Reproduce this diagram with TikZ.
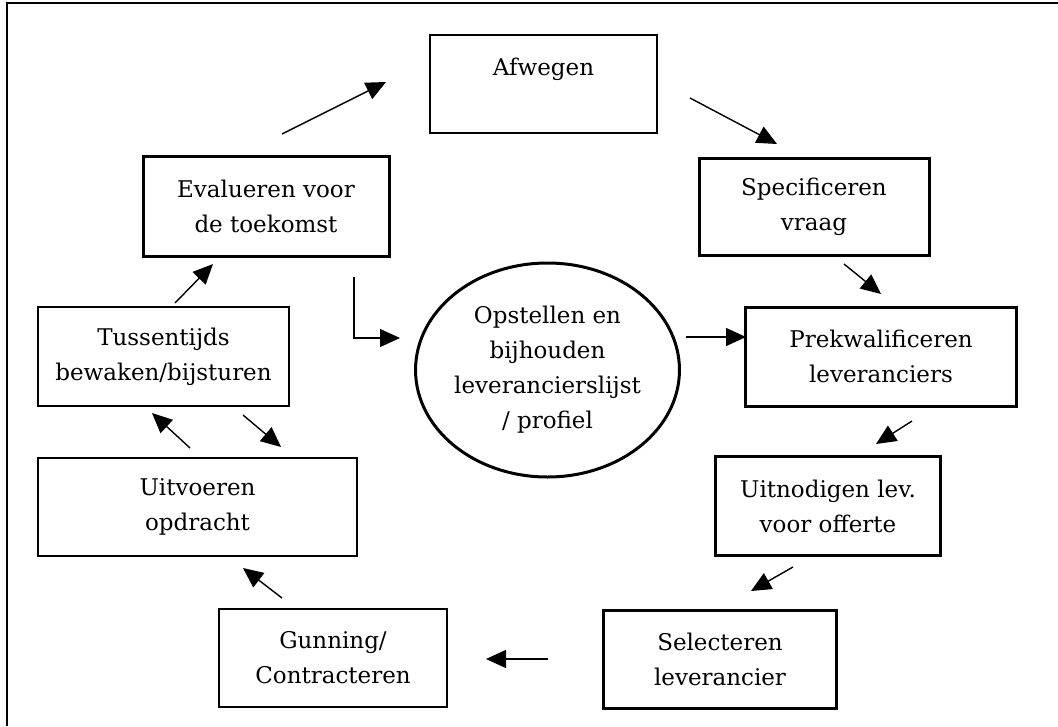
\documentclass[tikz,border=0pt]{standalone}
\usepackage{fontspec}
\setmainfont{DejaVu Serif}
\usetikzlibrary{arrows.meta,shapes.geometric}
\begin{document}
\begin{tikzpicture}[x=1pt,y=-1pt,
  every node/.style={font={\fontsize{23}{35}\selectfont}, align=center, inner sep=0pt},
  thinbox/.style={draw, line width=1.5pt, rectangle},
  thickbox/.style={draw, line width=3pt, rectangle},
  arr/.style={line width=1.4pt, -{Triangle[length=20pt,width=18pt]}}
]
\useasboundingbox (0,0) rectangle (1058,726);
% outer frame (top and left only)
\draw[line width=2pt] (1058,3) -- (7,3) -- (7,726);

% boxes
\node[thinbox, minimum width=227pt, minimum height=98pt] (afw) at (543.5,84) {Afwegen\\ \mbox{}};
\node[thickbox, minimum width=246pt, minimum height=100pt] (eval) at (266,206) {Evalueren voor\\de toekomst};
\node[thickbox, minimum width=230pt, minimum height=97pt] (spec) at (814,206.5) {Specificeren\\vraag};
\node[thickbox, minimum width=271pt, minimum height=99pt] (prek) at (881,356.5) {Prekwalificeren\\leveranciers};
\node[thickbox, minimum width=225pt, minimum height=99pt] (uitn) at (828,506) {Uitnodigen lev.\\voor offerte};
\node[thickbox, minimum width=233pt, minimum height=98pt] (sel) at (720,659) {Selecteren\\leverancier};
\node[thinbox, minimum width=228pt, minimum height=98pt] (gun) at (333,658) {Gunning/\\Contracteren};
\node[thinbox, minimum width=319pt, minimum height=98pt] (uitv) at (197.5,507) {Uitvoeren\\opdracht};
\node[thinbox, minimum width=251pt, minimum height=99pt] (tuss) at (163.5,356.5) {Tussentijds\\bewaken/bijsturen};
\node[draw, line width=3pt, ellipse, minimum width=261pt, minimum height=214pt] (ell) at (547.5,370) {Opstellen en\\bijhouden\\leverancierslijst\\/ profiel};

% arrow end points
\coordinate (a1s) at (282,134); \coordinate (a1e) at (386,82);
\coordinate (a2s) at (690,98);  \coordinate (a2e) at (777,144);
\coordinate (a3s) at (844,264); \coordinate (a3e) at (881,294);
\coordinate (a4s) at (686,337); \coordinate (a4e) at (746,337);
\coordinate (a5s) at (912,421); \coordinate (a5e) at (876,444);
\coordinate (a6s) at (793,567); \coordinate (a6e) at (751,591);
\coordinate (a7s) at (548,659); \coordinate (a7e) at (486,659);
\coordinate (a8s) at (282,598); \coordinate (a8e) at (243,568);
\coordinate (a9s) at (190,448); \coordinate (a9e) at (152,413);
\coordinate (a10s) at (243,415); \coordinate (a10e) at (281,447);
\coordinate (a11s) at (175,303); \coordinate (a11e) at (213,264);
\coordinate (a12s) at (354,277); \coordinate (a12m) at (354,338); \coordinate (a12e) at (400,338);

\draw[arr] (a1s) -- (a1e);
\draw[arr] (a2s) -- (a2e);
\draw[arr] (a3s) -- (a3e);
\draw[arr] (a4s) -- (a4e);
\draw[arr] (a5s) -- (a5e);
\draw[arr] (a6s) -- (a6e);
\draw[arr] (a7s) -- (a7e);
\draw[arr] (a8s) -- (a8e);
\draw[arr] (a9s) -- (a9e);
\draw[arr] (a10s) -- (a10e);
\draw[arr] (a11s) -- (a11e);
\draw[arr, line width=1.2pt] (a12s) -- (a12m) -- (a12e);
\end{tikzpicture}
\end{document}
